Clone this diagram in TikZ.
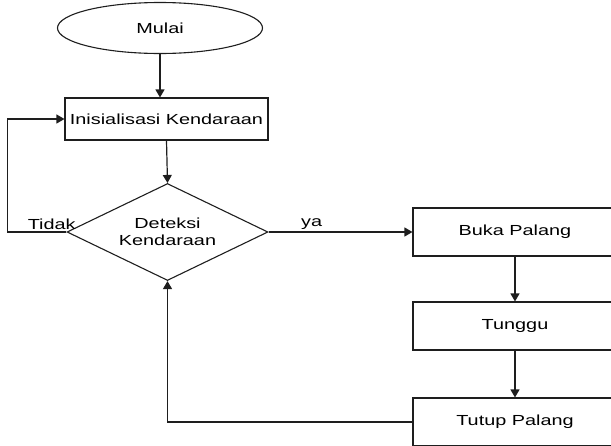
\documentclass[tikz,border=0pt]{standalone}
\usepackage{fontspec}
\setmainfont[FakeStretch=1.36]{Liberation Sans}
\usetikzlibrary{arrows.meta, positioning, shapes.geometric}
\definecolor{flowline}{RGB}{30, 30, 30}

\begin{document}
\begin{tikzpicture}[x=1pt, y=-1pt,
        terminal/.style={ellipse, draw=flowline, line width=1.1pt, minimum width=205pt, minimum height=51pt, inner sep=0pt, font=\fontsize{14.6}{17}\selectfont},
        process/.style={rectangle, draw=flowline, line width=1.1pt, minimum width=204pt, minimum height=48pt, inner sep=0pt, font=\fontsize{14.6}{17}\selectfont},
        decision/.style={diamond, aspect=2, draw=flowline, line width=1.1pt, minimum width=201pt, minimum height=97pt, inner sep=0pt, align=center, font=\fontsize{14.6}{17}\selectfont},
        lbl/.style={font=\fontsize{14.6}{17}\selectfont, inner sep=2pt},
        arr/.style={-{Triangle[length=8pt, width=9pt]}, line width=1.2pt, draw=flowline}
    ]
        \useasboundingbox (0,0) rectangle (611,445);

        % Start and init
        \node[terminal] (mulai) at (160, 28) {Mulai};
        \node[process, minimum width=203pt, minimum height=42pt] (init) at (166.5, 119) {Inisialisasi Kendaraan};
        \node[decision] (deteksi) at (167.5, 232) {Deteksi\\Kendaraan};
        \draw[arr] (mulai.south) -- (mulai.south |- init.north);
        \draw[arr] (init.south) -- (deteksi.north);

        % Tidak: back to init
        \draw[arr] (deteksi.west) -- node[lbl, above, pos=0.25] {Tidak} ++(-59, 0) |- (init.west);

        % Ya: gate sequence
        \node[process] (buka) at (515, 232) {Buka Palang};
        \node[process] (tunggu) at (515, 326) {Tunggu};
        \node[process] (tutup) at (515, 422) {Tutup Palang};
        \draw[arr] (deteksi.east) -- node[lbl, above, pos=0.3] {ya} (buka.west);
        \draw[arr] (buka.south) -- (tunggu.north);
        \draw[arr] (tunggu.south) -- (tutup.north);
        \draw[arr] (tutup.west) -| (deteksi.south);
    \end{tikzpicture}
\end{document}
